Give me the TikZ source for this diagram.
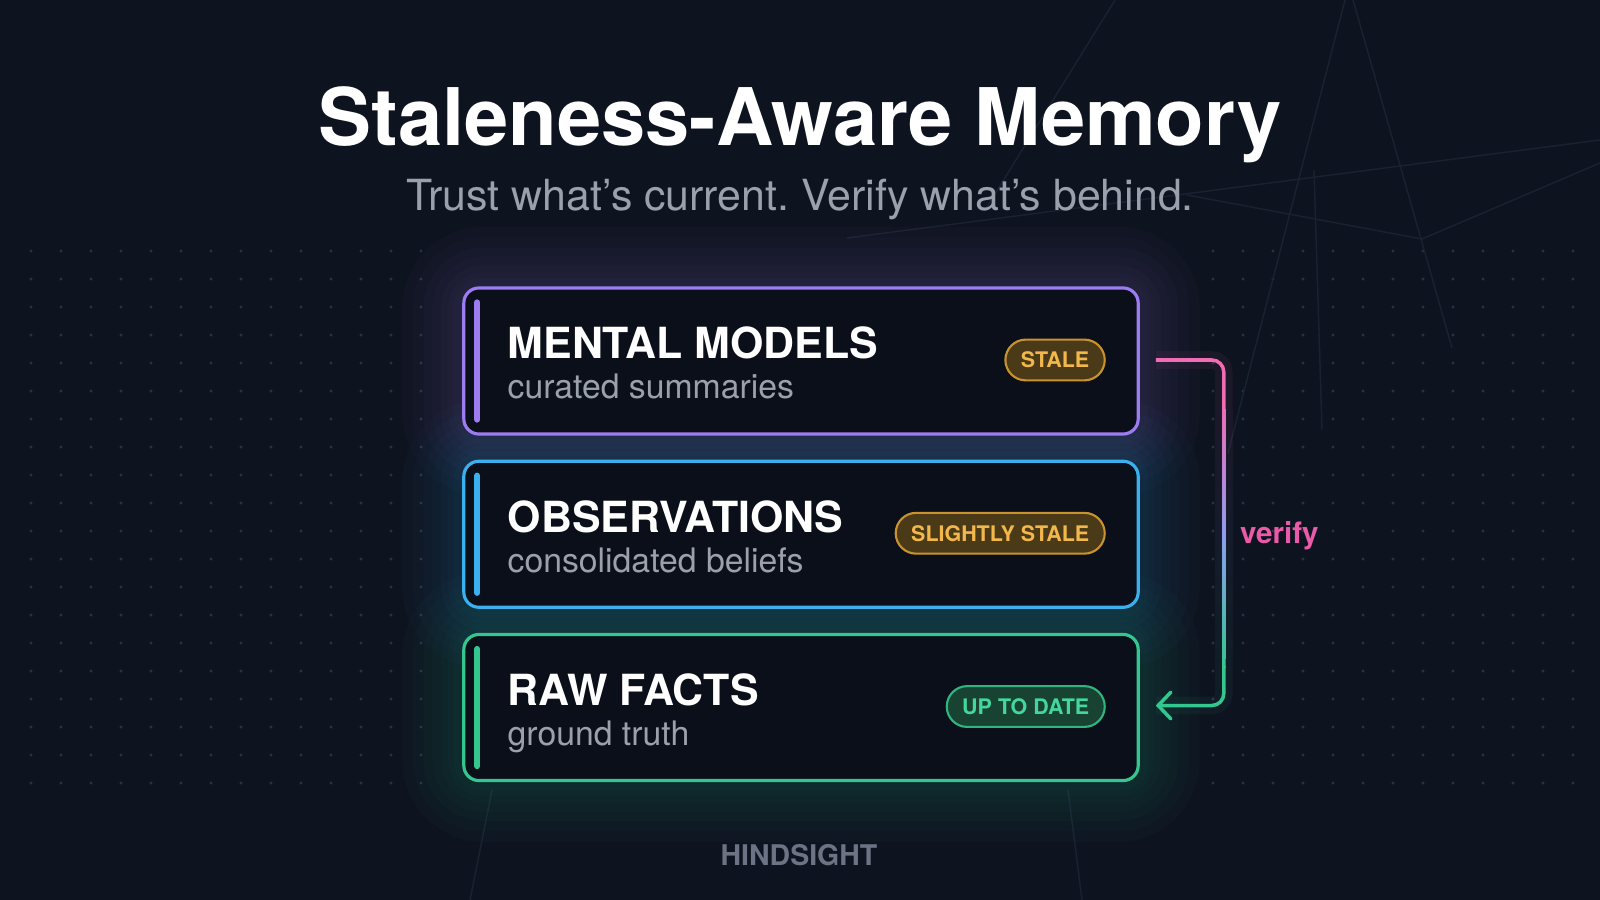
\documentclass[tikz,border=0pt]{standalone}
\usepackage{fontspec}
\setmainfont{TeX Gyre Heros}
\usepackage{tikz}
\usetikzlibrary{calc,arrows.meta,positioning}
\definecolor{BgCol}{HTML}{0E1320}
\definecolor{BoxCol}{HTML}{0B0F19}
\definecolor{DotCol}{HTML}{2A3242}
\definecolor{FaintCol}{HTML}{1A2232}
\definecolor{PurpleC}{HTML}{9D7BF0}
\definecolor{BlueC}{HTML}{3AB0EE}
\definecolor{GreenC}{HTML}{34C68F}
\definecolor{PinkC}{HTML}{F06CB5}
\definecolor{PeriC}{HTML}{8E9CF0}
\definecolor{AmberLine}{HTML}{C9922E}
\definecolor{AmberFill}{HTML}{4A3A18}
\definecolor{AmberText}{HTML}{F2B84B}
\definecolor{MintLine}{HTML}{2FB57F}
\definecolor{MintFill}{HTML}{184232}
\definecolor{MintText}{HTML}{43D79D}
\definecolor{SubGrey}{HTML}{9AA1AD}
\definecolor{MarkGrey}{HTML}{6B7384}
\definecolor{VerifyCol}{HTML}{E95BA8}
\pgfdeclarelayer{glow}
\pgfsetlayers{glow,main}
\frenchspacing

\begin{document}
\begin{tikzpicture}[x=0.01cm, y=0.01cm,
  tier/.style={draw=#1, line width=0.9pt, fill=BoxCol, rounded corners=4.3pt,
    minimum width=6.74cm, minimum height=1.46cm},
  accent/.style={draw=#1, line width=1.7pt, line cap=round},
  head/.style={font=\fontsize{12.2}{15}\selectfont\bfseries, text=white},
  subline/.style={font=\fontsize{9.6}{11}\selectfont, text=SubGrey},
  badge/.style={line width=0.6pt, rounded corners=5.8pt, inner xsep=4.4pt,
    minimum height=11.6pt, font=\fontsize{6.1}{8}\selectfont\bfseries},
  amberbadge/.style={badge, draw=AmberLine, fill=AmberFill, text=AmberText},
  mintbadge/.style={badge, draw=MintLine, fill=MintFill, text=MintText},
  verifyline/.style={line width=1pt},
  faint/.style={FaintCol, line width=0.4pt}]
  \useasboundingbox (0,0) rectangle (1600,900);
  \begin{pgfonlayer}{glow}
    \fill[BgCol] (0,0) rectangle (1600,900);
    % dot grid, left and right
    \foreach \x in {31,61,...,421} \foreach \y in {649,621,...,90}
      \fill[DotCol] (\x,\y) circle (0.45pt);
    \foreach \x in {1213,1243,...,1573} \foreach \y in {649,621,...,90}
      \fill[DotCol] (\x,\y) circle (0.45pt);
    % faint lines
    \draw[faint] (847,662) -- (1600,760);
    \draw[faint] (1187,705) -- (1422,661) -- (1600,737);
    \draw[faint] (1345,900) -- (1228,447);
    \draw[faint] (1353,900) -- (1452,552);
    \draw[faint] (1314,730) -- (1322,470);
    \draw[faint] (1115,900) -- (985,690);
    \draw[faint] (470,0) -- (492,110);
    \draw[faint] (1068,110) -- (1082,0);
  \end{pgfonlayer}

  % title
  \node[font=\fontsize{22.6}{27}\selectfont\bfseries, text=white] (title) at (800,775) {Staleness-Aware Memory};
  \node[font=\fontsize{12.2}{14}\selectfont, text=SubGrey] (tag) at (800,701) {Trust what’s current. Verify what’s behind.};

  % the three tiers
  \node[tier=PurpleC] (mm) at (801,539) {};
  \node[tier=BlueC, below=0.24cm of mm] (ob) {};
  \node[tier=GreenC, below=0.24cm of ob] (rf) {};
  \begin{pgfonlayer}{glow}
    \foreach \n/\c in {mm/PurpleC, ob/BlueC, rf/GreenC}
      \foreach \w in {34pt,28pt,22pt,17pt,12pt,8pt,5pt}
        \draw[\c, line width=\w, opacity=0.022, rounded corners=6pt] (\n.south west) rectangle (\n.north east);
  \end{pgfonlayer}
  \foreach \n/\c in {mm/PurpleC, ob/BlueC, rf/GreenC}
    \draw[accent=\c] ($(\n.north west)+(15,-16)$) -- ($(\n.south west)+(15,16)$);

  % Tier 1: mental models
  \node[head, anchor=base west] (mmh) at ($(mm.west)+(33,2)$) {MENTAL MODELS};
  \node[subline, anchor=base west] (mms) at ($(mm.west)+(33,-38)$) {curated summaries};
  \node[amberbadge, anchor=east] (mmb) at ($(mm.east)+(-34,1)$) {STALE};
  % Tier 2: observations
  \node[head, anchor=base west] (obh) at ($(ob.west)+(33,2)$) {OBSERVATIONS};
  \node[subline, anchor=base west] (obs) at ($(ob.west)+(33,-38)$) {consolidated beliefs};
  \node[amberbadge, anchor=east] (obb) at ($(ob.east)+(-34,1)$) {SLIGHTLY STALE};
  % Tier 3: raw facts
  \node[head, anchor=base west] (rfh) at ($(rf.west)+(33,2)$) {RAW FACTS};
  \node[subline, anchor=base west] (rfs) at ($(rf.west)+(33,-38)$) {ground truth};
  \node[mintbadge, anchor=east] (rfb) at ($(rf.east)+(-34,1)$) {UP TO DATE};

  % verify loop, pink to green
  \coordinate (vtop) at ($(mm.east)+(16,1)$);
  \coordinate (vbot) at ($(rf.east)+(16,2)$);
  \coordinate (gtop) at ($(vtop)+(68,-40)$);
  \coordinate (gbot) at ($(vbot)+(68,40)$);
  \draw[PinkC, line width=5pt, opacity=0.06, rounded corners=3.4pt] (vtop) -| (gtop);
  \draw[verifyline, PinkC, rounded corners=3.4pt] (vtop) -| (gtop);
  \foreach \i in {0,...,29}{
    \pgfmathsetmacro{\ta}{\i/30}
    \pgfmathsetmacro{\tb}{(\i+1)/30}
    \pgfmathsetmacro{\tc}{(\i+1.3)/30}
    \pgfmathtruncatemacro{\mix}{\i<15 ? 100-\i*100/15 : 100-(\i-15)*100/15}
    \ifnum\i<15 \colorlet{segcol}{PinkC!\mix!PeriC}\else\colorlet{segcol}{PeriC!\mix!GreenC}\fi
    \draw[segcol, line width=5pt, opacity=0.06, line cap=butt] ($(gtop)!\ta!(gbot)$) -- ($(gtop)!\tb!(gbot)$);
    \draw[verifyline, segcol] ($(gtop)!\ta!(gbot)$) -- ($(gtop)!\tc!(gbot)$);
  }
  \draw[GreenC, line width=5pt, opacity=0.06, rounded corners=3.4pt] (gbot) |- (vbot);
  \draw[verifyline, GreenC, rounded corners=3.4pt, -{Straight Barb[length=3.6pt, width=7.6pt, line cap=round]}] (gbot) |- (vbot);
  \node[font=\fontsize{8.4}{10}\selectfont\bfseries, text=VerifyCol, anchor=west] (vfy) at ($(gtop)!0.5!(gbot)+(4,-3)$) {verify};

  % footer
  \node[font=\fontsize{8.1}{10}\selectfont\bfseries, text=MarkGrey] (mark) at (799,45) {HINDSIGHT};
\end{tikzpicture}
\end{document}
